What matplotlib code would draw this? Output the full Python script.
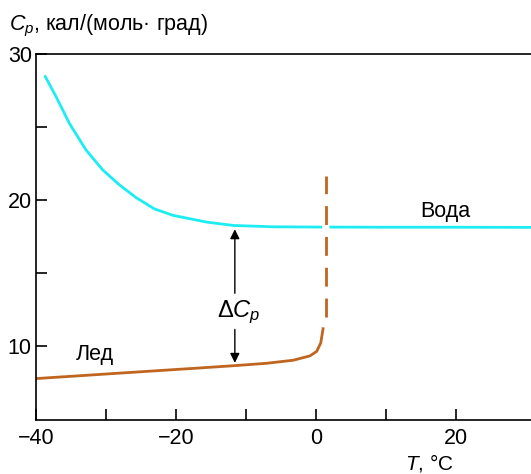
import numpy as np
import matplotlib.pyplot as plt

plt.rcParams['font.family'] = ['Liberation Sans', 'DejaVu Sans']
plt.rcParams['mathtext.fontset'] = 'custom'
plt.rcParams['mathtext.it'] = 'Liberation Sans:italic'
plt.rcParams['mathtext.rm'] = 'Liberation Sans'

# вода (переохлажденная и жидкая)
water_t1 = [-38.67, -37.14, -35.24, -32.86, -30.47, -28.1, -25.7, -23.1, -20.4,
            -15.6, -11.8, -6.1, 0.67]
water_c1 = [28.45, 27.08, 25.25, 23.42, 22.05, 21.03, 20.15, 19.38, 18.93,
            18.47, 18.24, 18.15, 18.13]
water_t2 = [2.1, 10.0, 20.0, 30.7]
water_c2 = [18.13, 18.12, 18.12, 18.11]

# лед
ice_t = [-40.0, -26.6, -16.57, -11.57, -7.05, -3.24, -0.86, 0.1, 0.67, 1.0]
ice_c = [7.74, 8.16, 8.47, 8.63, 8.79, 9.0, 9.3, 9.61, 10.19, 11.16]

# плавление (штрих)
melt_t = [1.36, 1.36]
melt_c = [11.97, 21.64]

cyan = '#1DEDF2'
brown = '#C0651F'

fig = plt.figure(figsize=(5.31, 4.74), dpi=100)
ax = fig.add_axes([36/531, 1 - 420/474, 1 - 36/531, (420 - 54)/474])

ax.plot(water_t1, water_c1, color=cyan, lw=2)
ax.plot(water_t2, water_c2, color=cyan, lw=2)
ax.plot(ice_t, ice_c, color=brown, lw=2)
ax.plot(melt_t, melt_c, color=brown, lw=2, dashes=(6.8, 4.3), dash_capstyle='butt')

# стрелка dCp
ax.annotate('', xy=(-11.6, 18.17), xytext=(-11.6, 13.4),
            arrowprops=dict(arrowstyle='-|>', color='black', lw=1, mutation_scale=14))
ax.annotate('', xy=(-11.6, 8.63), xytext=(-11.6, 11.3),
            arrowprops=dict(arrowstyle='-|>', color='black', lw=1, mutation_scale=14))
ax.text(-11.1, 12.3, r'$\Delta C_p$', fontsize=17, ha='center', va='center')

ax.text(-31.6, 9.4, 'Лед', fontsize=15.5, ha='center', va='center')
ax.text(18.4, 19.2, 'Вода', fontsize=15.5, ha='center', va='center')

ax.set_xlim(-40, 30.7)
ax.set_ylim(4.9, 30)
ax.set_xticks([-40, -20, 0, 20])
ax.set_xticklabels(['\u221240', '\u221220', '0', '20'])
ax.set_xticks([-30, -10, 10], minor=True)
ax.set_yticks([10, 20, 30])
ax.set_yticks([15, 25], minor=True)
ax.tick_params(which='both', direction='in', length=8, width=1.2, labelsize=15.5)
ax.tick_params(axis='x', pad=6)
ax.tick_params(axis='y', pad=3)
ax.spines['right'].set_visible(False)
for s in ['left', 'bottom', 'top']:
    ax.spines[s].set_linewidth(1.2)

fig.text(9/531, 1 - 30/474, r'$C_p$, кал/(моль· град)', fontsize=15.5, ha='left', va='baseline')
fig.text(429/531, 1 - 470/474, r'$T$, °C', fontsize=15, ha='center', va='baseline')

fig.savefig('out.png', dpi=100)
